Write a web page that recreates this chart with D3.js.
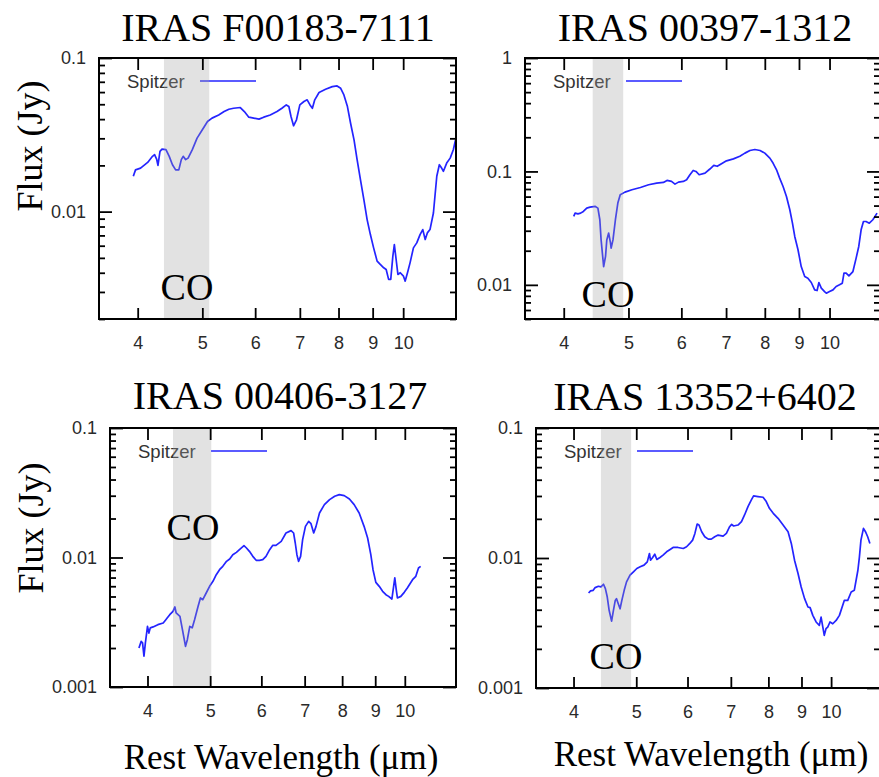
<!DOCTYPE html>
<html><head><meta charset="utf-8">
<script src="https://cdn.jsdelivr.net/npm/d3@7"></script>
<style>body{margin:0;background:#fff}svg{display:block}</style>
</head><body>
<svg id="chart" width="879" height="777"></svg>
<script>
// Spitzer IRS spectra of four ULIRGs, rest-frame wavelength vs flux density
const titles = ["IRAS F00183-7111", "IRAS 00397-1312", "IRAS 00406-3127", "IRAS 13352+6402"];

const wl1 = [3.94,3.97,4.04,4.14,4.21,4.24,4.27,4.29,4.32,4.35,4.41,4.46,4.51,4.56,4.61,4.65,4.68,4.72,4.76,4.83,
  4.91,5.00,5.09,5.17,5.29,5.39,5.48,5.57,5.70,5.78,5.87,5.97,6.08,6.18,6.32,6.47,6.58,6.68,6.74,6.79,
  6.85,6.92,7.00,7.10,7.18,7.25,7.31,7.37,7.48,7.65,7.83,7.96,8.06,8.15,8.25,8.34,8.44,8.53,8.63,8.73,
  8.83,8.93,9.03,9.14,9.24,9.35,9.43,9.51,9.58,9.65,9.70,9.76,9.82,9.90,10.01,10.07,10.15,10.24,10.36,10.48,
  10.60,10.70,10.79,10.87,10.97,11.10,11.23,11.33,11.42,11.49,11.62,11.76,11.89,11.98];
const flux1 = [0.0170,0.0187,0.0192,0.0209,0.0229,0.0235,0.0220,0.0200,0.0247,0.0255,0.0253,0.0229,0.0202,0.0187,0.0187,0.0218,0.0229,0.0218,0.0223,0.0253,
  0.0301,0.0341,0.0386,0.0406,0.0426,0.0448,0.0464,0.0471,0.0476,0.0448,0.0412,0.0406,0.0400,0.0412,0.0426,0.0448,0.0471,0.0495,0.0483,0.0416,
  0.0362,0.0396,0.0495,0.0521,0.0534,0.0495,0.0471,0.0534,0.0596,0.0626,0.0651,0.0658,0.0635,0.0575,0.0483,0.0376,0.0293,0.0218,0.0161,0.0120,
  0.00887,0.00709,0.00581,0.00476,0.00453,0.00431,0.00420,0.00362,0.00362,0.00513,0.00610,0.00488,0.00390,0.00400,0.00380,0.00353,0.00400,0.00464,0.00581,0.00626,
  0.00709,0.00764,0.00658,0.00727,0.00764,0.00980,0.0170,0.0202,0.0192,0.0183,0.0207,0.0223,0.0253,0.0293];

const wl2 = [4.14,4.16,4.20,4.24,4.28,4.33,4.38,4.46,4.50,4.53,4.55,4.58,4.59,4.62,4.64,4.67,4.70,4.71,4.74,4.78,
  4.82,4.86,4.94,5.06,5.21,5.36,5.51,5.64,5.71,5.80,5.87,5.94,6.04,6.11,6.18,6.25,6.31,6.38,6.51,6.62,
  6.71,6.79,6.89,7.01,7.18,7.34,7.47,7.60,7.73,7.87,8.00,8.14,8.23,8.33,8.42,8.52,8.62,8.72,8.80,8.87,
  8.97,9.07,9.18,9.28,9.39,9.50,9.58,9.64,9.72,9.83,9.89,10.00,10.12,10.23,10.35,10.45,10.51,10.59,10.69,10.84,
  10.96,11.06,11.15,11.24,11.34,11.47,11.61,11.78];
const flux2 = [0.0401,0.0429,0.0423,0.0429,0.0444,0.0475,0.0484,0.0491,0.0475,0.0375,0.0249,0.0166,0.0145,0.0178,0.0249,0.0286,0.0233,0.0211,0.0249,0.0375,
  0.0526,0.0622,0.0657,0.0689,0.0722,0.0763,0.0789,0.0800,0.0833,0.0816,0.0773,0.0805,0.0816,0.0844,0.0935,0.102,0.100,0.0935,0.0967,0.105,
  0.113,0.111,0.117,0.124,0.129,0.136,0.145,0.153,0.156,0.153,0.145,0.131,0.1185,0.1034,0.0873,0.0737,0.0602,0.0459,0.0350,0.0267,
  0.0204,0.0145,0.01185,0.01145,0.01049,0.00903,0.00891,0.01049,0.00935,0.00873,0.00844,0.00873,0.00903,0.00967,0.0100,0.01034,0.01267,0.01267,0.0120,0.0131,
  0.0172,0.0218,0.0306,0.0362,0.0362,0.0350,0.0375,0.0429];

const wl3 = [3.88,3.91,3.93,3.95,3.97,4.00,4.02,4.04,4.08,4.15,4.23,4.27,4.29,4.33,4.38,4.41,4.43,4.49,4.53,4.58,
  4.61,4.65,4.69,4.73,4.79,4.83,4.87,4.93,4.99,5.05,5.11,5.17,5.23,5.30,5.36,5.42,5.49,5.55,5.64,5.69,
  5.75,5.82,5.89,5.96,6.03,6.10,6.18,6.25,6.32,6.44,6.55,6.67,6.73,6.77,6.81,6.85,6.90,6.95,7.02,7.10,
  7.16,7.23,7.29,7.38,7.51,7.65,7.79,7.92,8.06,8.21,8.35,8.50,8.65,8.76,8.86,8.93,9.02,9.13,9.24,9.35,
  9.44,9.55,9.61,9.65,9.70,9.74,9.86,9.98,10.09,10.28,10.40,10.50,10.58];
const flux3 = [0.00200,0.00225,0.00219,0.00173,0.00219,0.00294,0.00261,0.00286,0.00291,0.00303,0.00312,0.00331,0.00341,0.00362,0.00384,0.00415,0.00373,0.00351,0.00277,0.00206,
  0.00232,0.00294,0.00286,0.00331,0.00420,0.00487,0.00472,0.00532,0.00599,0.00655,0.00737,0.00805,0.00855,0.00934,0.00974,0.01051,0.01096,0.01149,0.01234,0.01184,
  0.01116,0.01021,0.00951,0.00951,0.00962,0.01021,0.01149,0.01242,0.01242,0.01333,0.01546,0.01612,0.01546,0.01294,0.01051,0.00934,0.01021,0.01373,0.01740,0.01902,
  0.01825,0.01546,0.01740,0.02207,0.02559,0.02797,0.02968,0.03057,0.03003,0.02830,0.02559,0.02207,0.01740,0.01414,0.01051,0.00805,0.00643,0.00599,0.00548,0.00516,
  0.00501,0.00478,0.00599,0.00695,0.00564,0.00487,0.00501,0.00538,0.00581,0.00674,0.00716,0.00830,0.00855];

const wl4 = [4.22,4.25,4.29,4.32,4.37,4.41,4.45,4.48,4.51,4.54,4.58,4.61,4.64,4.66,4.69,4.72,4.75,4.79,4.83,4.89,
  4.95,5.01,5.07,5.14,5.20,5.24,5.26,5.30,5.34,5.38,5.44,5.50,5.57,5.64,5.70,5.80,5.91,5.98,6.05,6.11,
  6.16,6.21,6.25,6.31,6.38,6.46,6.53,6.61,6.69,6.81,6.89,6.97,7.02,7.07,7.18,7.27,7.35,7.44,7.53,7.59,
  7.71,7.85,7.94,8.03,8.14,8.28,8.43,8.58,8.68,8.78,8.89,8.99,9.10,9.21,9.28,9.37,9.48,9.59,9.65,9.71,
  9.76,9.82,9.88,9.96,10.06,10.18,10.30,10.48,10.61,10.74,10.86,11.00,11.06,11.12,11.22,11.30,11.39,11.48];
const flux4 = [0.00538,0.00558,0.00564,0.00592,0.00606,0.00599,0.00628,0.00581,0.00501,0.00396,0.00327,0.00396,0.00472,0.00487,0.00445,0.00407,0.00472,0.00564,0.00655,0.00737,
  0.00782,0.00830,0.00855,0.00881,0.00934,0.01083,0.00962,0.01009,0.01070,0.00974,0.01009,0.01051,0.01116,0.01163,0.01205,0.01205,0.01184,0.01220,0.01294,0.01373,
  0.01546,0.01825,0.01793,0.01593,0.01457,0.01398,0.01398,0.01457,0.01501,0.01474,0.01546,0.01740,0.01815,0.01762,0.01793,0.01902,0.02143,0.02484,0.02797,0.03003,
  0.02968,0.02933,0.02715,0.02411,0.02207,0.02018,0.01793,0.01593,0.01294,0.00962,0.00759,0.00599,0.00487,0.00420,0.00415,0.00362,0.00322,0.00303,0.00351,0.00294,
  0.00254,0.00286,0.00294,0.00322,0.00312,0.00331,0.00362,0.00472,0.00472,0.00548,0.00564,0.00805,0.01021,0.01373,0.01689,0.01593,0.01457,0.01294];

// CO absorption window (rest μm) marked in each panel
const coBands = [[4.38, 5.12], [4.42, 4.91], [4.38, 5.02], [4.41, 4.91]];
const yDomains = [[0.002, 0.1], [0.005, 1], [0.001, 0.1], [0.001, 0.1]];
const xDomains = [[3.5, 12], [3.5, 11.9], [3.5, 12], [3.5, 11.9]];
const xTickValues = [4, 5, 6, 7, 8, 9, 10];
const yMajorTicks = [[0.01, 0.1], [0.01, 0.1, 1], [0.001, 0.01, 0.1], [0.001, 0.01, 0.1]];
const seriesName = "Spitzer";
const coLabel = "CO";
const yTitle = "Flux (Jy)";
const xTitle = "Rest Wavelength (\u03bcm)";

const wls = [wl1, wl2, wl3, wl4];
const fluxes = [flux1, flux2, flux3, flux4];

// frame boxes and label anchors for the 2x2 grid
const layout = [
  {x0: 99,  x1: 456, y0: 58,  y1: 319, tx: 278, ty: 41,  cox: 187, coy: 300, ylab: [42, 146]},
  {x0: 525, x1: 880, y0: 58,  y1: 319, tx: 705, ty: 41,  cox: 608, coy: 307},
  {x0: 110, x1: 456, y0: 428, y1: 687, tx: 280, ty: 409, cox: 193, coy: 540, ylab: [43, 528], xlab: [281, 769]},
  {x0: 536, x1: 880, y0: 428, y1: 688, tx: 705, ty: 410, cox: 616, coy: 669, xlab: [711, 766]}
];

const serif = "'Liberation Serif', 'Times New Roman', serif";
const sans = "'Liberation Sans', Arial, sans-serif";
const lineColor = "#2424ff";

const svg = d3.select("#chart");
const defs = svg.append("defs");

layout.forEach((L, i) => {
  const x = d3.scaleLog().domain(xDomains[i]).range([L.x0, L.x1]);
  const y = d3.scaleLog().domain(yDomains[i]).range([L.y1, L.y0]);
  const g = svg.append("g");

  defs.append("clipPath").attr("id", "clip" + i)
    .append("rect").attr("x", L.x0).attr("y", L.y0)
    .attr("width", L.x1 - L.x0).attr("height", L.y1 - L.y0);

  // spectrum
  const pts = wls[i].map((w, k) => [w, fluxes[i][k]]);
  g.append("path").datum(pts)
    .attr("clip-path", "url(#clip" + i + ")")
    .attr("fill", "none").attr("stroke", lineColor).attr("stroke-width", 1.7)
    .attr("stroke-linejoin", "round")
    .attr("d", d3.line().x(d => x(d[0])).y(d => y(d[1])));

  // legend
  g.append("text").attr("x", L.x0 + 28).attr("y", L.y0 + 29.5)
    .attr("font-family", sans).attr("font-size", 18.5).attr("fill", "#333")
    .text(seriesName);
  g.append("line").attr("x1", L.x0 + 101).attr("x2", L.x0 + 157)
    .attr("y1", L.y0 + 23).attr("y2", L.y0 + 23)
    .attr("stroke", lineColor).attr("stroke-width", 1.6);

  // translucent CO band over the spectrum
  g.append("rect")
    .attr("x", x(coBands[i][0])).attr("width", x(coBands[i][1]) - x(coBands[i][0]))
    .attr("y", L.y0).attr("height", L.y1 - L.y0)
    .attr("fill", "#a0a0a0").attr("fill-opacity", 0.31);

  // axes: inward ticks on all four sides
  const minor = y.ticks().filter(v => !yMajorTicks[i].some(m => Math.abs(m - v) / m < 1e-6));
  const styleAxis = sel => {
    sel.select(".domain").remove();
    sel.selectAll(".tick line").attr("stroke", "#000").attr("stroke-width", 1.8);
    sel.selectAll(".tick text").attr("fill", "#2a2a2a")
      .attr("font-family", sans).attr("font-size", 18);
  };
  g.append("g").attr("transform", `translate(0,${L.y1})`)
    .call(d3.axisBottom(x).tickValues(xTickValues).tickFormat(d3.format("d"))
      .tickSizeInner(-11).tickSizeOuter(0).tickPadding(17)).call(styleAxis);
  g.append("g").attr("transform", `translate(0,${L.y0})`)
    .call(d3.axisTop(x).tickValues(xTickValues).tickFormat("")
      .tickSizeInner(-12).tickSizeOuter(0)).call(styleAxis);
  g.append("g").attr("transform", `translate(${L.x0},0)`)
    .call(d3.axisLeft(y).tickValues(yMajorTicks[i]).tickFormat(v => String(v))
      .tickSizeInner(-13).tickSizeOuter(0).tickPadding(13)).call(styleAxis);
  g.append("g").attr("transform", `translate(${L.x0},0)`)
    .call(d3.axisLeft(y).tickValues(minor).tickFormat("")
      .tickSizeInner(-6).tickSizeOuter(0)).call(styleAxis);
  g.append("g").attr("transform", `translate(${L.x1},0)`)
    .call(d3.axisRight(y).tickValues(yMajorTicks[i]).tickFormat("")
      .tickSizeInner(-13).tickSizeOuter(0)).call(styleAxis);
  g.append("g").attr("transform", `translate(${L.x1},0)`)
    .call(d3.axisRight(y).tickValues(minor).tickFormat("")
      .tickSizeInner(-6).tickSizeOuter(0)).call(styleAxis);

  // frame
  g.append("rect").attr("x", L.x0).attr("y", L.y0)
    .attr("width", L.x1 - L.x0).attr("height", L.y1 - L.y0)
    .attr("fill", "none").attr("stroke", "#000").attr("stroke-width", 2);

  // CO label
  g.append("text").attr("x", L.cox).attr("y", L.coy)
    .attr("text-anchor", "middle").attr("font-family", serif).attr("font-size", 38)
    .attr("fill", "#000").text(coLabel);

  // panel title
  g.append("text").attr("x", L.tx).attr("y", L.ty)
    .attr("text-anchor", "middle").attr("font-family", serif).attr("font-size", 40)
    .attr("fill", "#000").text(titles[i]);

  if (L.ylab) {
    g.append("text").attr("transform", `translate(${L.ylab[0]},${L.ylab[1]}) rotate(-90)`)
      .attr("text-anchor", "middle").attr("font-family", serif).attr("font-size", 36)
      .attr("fill", "#000").text(yTitle);
  }
  if (L.xlab) {
    g.append("text").attr("x", L.xlab[0]).attr("y", L.xlab[1])
      .attr("text-anchor", "middle").attr("font-family", serif).attr("font-size", 35)
      .attr("fill", "#000").text(xTitle);
  }
});
</script>
</body></html>
